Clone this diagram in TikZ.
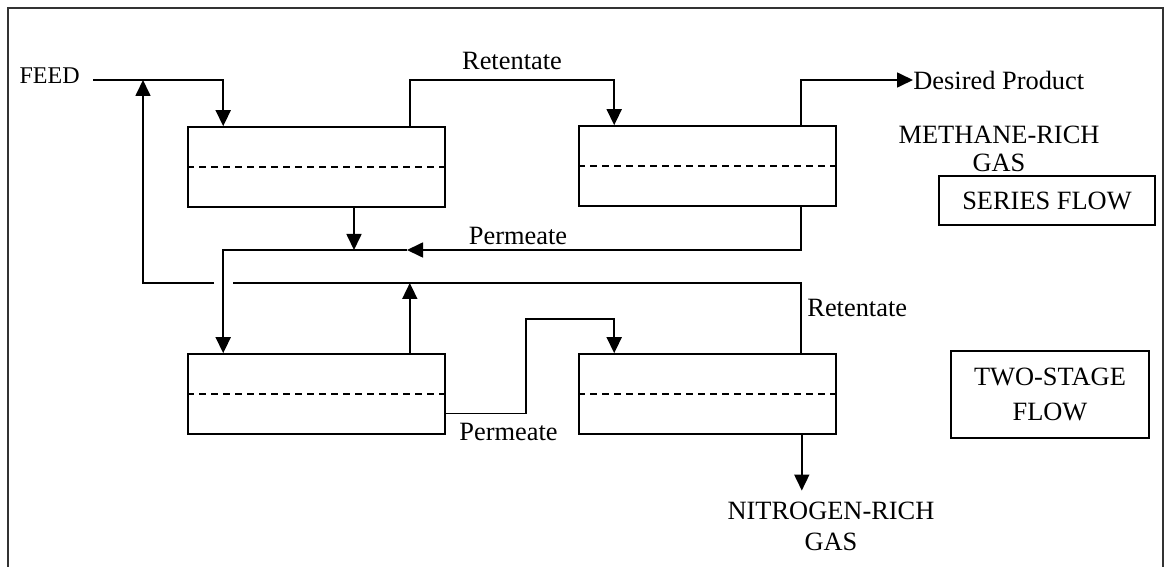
\documentclass[tikz,border=0pt]{standalone}
\usepackage{fontspec}
\setmainfont{Liberation Serif}
\usetikzlibrary{arrows.meta,positioning,calc}

\begin{document}
\begin{tikzpicture}[
  x=0.5pt, y=-0.5pt,
  font=\fontsize{13.2}{14}\selectfont,
  membrane/.style={
    rectangle, draw, inner sep=0pt,
    minimum width=128.5pt, minimum height=40pt,
    line width=0.8pt
  },
  flowbox/.style={
    rectangle, draw, align=center, inner sep=0pt,
    line width=0.8pt
  },
  tag/.style={inner sep=0pt},
  memline/.style={dash pattern=on 3.5pt off 2.5pt, line width=0.65pt},
  pipe/.style={line width=0.85pt},
  flow/.style={-{Triangle[length=8pt,width=7.5pt]}, line width=0.85pt}
]
\useasboundingbox (0,0) rectangle (1164,567);
\draw[line width=0.6pt, black!80] (8,567) -- (8,8) -- (1163,8) -- (1163,567);

\node[membrane] (s1) at (316.5,167) {};
\node[membrane] (s2) at (707.5,166) {};
\node[membrane] (t1) at (316.5,394) {};
\node[membrane] (t2) at (707.5,394) {};

\foreach \m in {s1,s2,t1,t2} {
  \draw[memline] (\m.west) -- (\m.east);
  \coordinate (\m-in) at ([xshift=18pt]\m.north west);
  \coordinate (\m-ret) at ([xshift=-18pt]\m.north east);
}
\coordinate (s1-perm) at ([xshift=18.75pt]s1.south);
\coordinate (s2-perm) at ([xshift=-18pt]s2.south east);
\coordinate (t1-perm) at ([yshift=-9.75pt]t1.east);
\coordinate (t2-out) at ([xshift=-17.5pt]t2.south east);

\node[anchor=east, inner xsep=6.5pt, font=\fontsize{12}{14}\selectfont] (feed) at (93,76) {FEED};
\node[anchor=west, inner sep=0pt] (prod) at (913,80) {Desired Product};
\node[align=center] (methane) at (999,149) {METHANE-RICH\\GAS};
\node[flowbox, minimum width=108pt, minimum height=24.5pt] (series) at (1047,200.5) {SERIES FLOW};
\node[flowbox, minimum width=99pt, minimum height=43.5pt,
  font=\fontsize{13.2}{17.5}\selectfont] (twostage) at (1050,394.5) {TWO-STAGE\\FLOW};
\node[align=center, font=\fontsize{13.2}{15.5}\selectfont] (nitro) at (831,526) {NITROGEN-RICH\\GAS};

\node[tag, anchor=base] (ret1) at (512,70) {Retentate};
\node[tag, anchor=base] (perm1) at (518,245) {Permeate};
\node[tag, anchor=base west] (ret2) at (807,317) {Retentate};
\node[tag, anchor=base] (perm2) at (508.5,440) {Permeate};

\coordinate (feedin) at ([yshift=-2pt]feed.east);
\coordinate (rctop) at ([xshift=25pt]feedin);
\coordinate (pmtip) at (407,250);
\coordinate (gapL) at (214,283);
\coordinate (gapR) at (233,283);
\coordinate (jog) at (526,319);

\draw[flow] (feedin) -| (s1-in);
\draw[flow] (s1-ret) -- (s1-ret |- feedin) -| (s2-in);
\draw[flow] (s2-ret) |- (prod.west);
\draw[flow] (s1-perm) -- (s1-perm |- pmtip);
\draw[flow] (s2-perm) |- (pmtip);
\draw[flow] (pmtip) -| (t1-in);
\draw[flow] (t1-ret) -- (t1-ret |- gapR);
\draw[pipe] (t2-ret) |- (gapR);
\draw[flow] (gapL) -| (rctop);
\draw[flow] (t1-perm) -| (jog) -| (t2-in);
\draw[flow] (t2-out) -- ([yshift=2pt]t2-out |- nitro.north);
\end{tikzpicture}
\end{document}
